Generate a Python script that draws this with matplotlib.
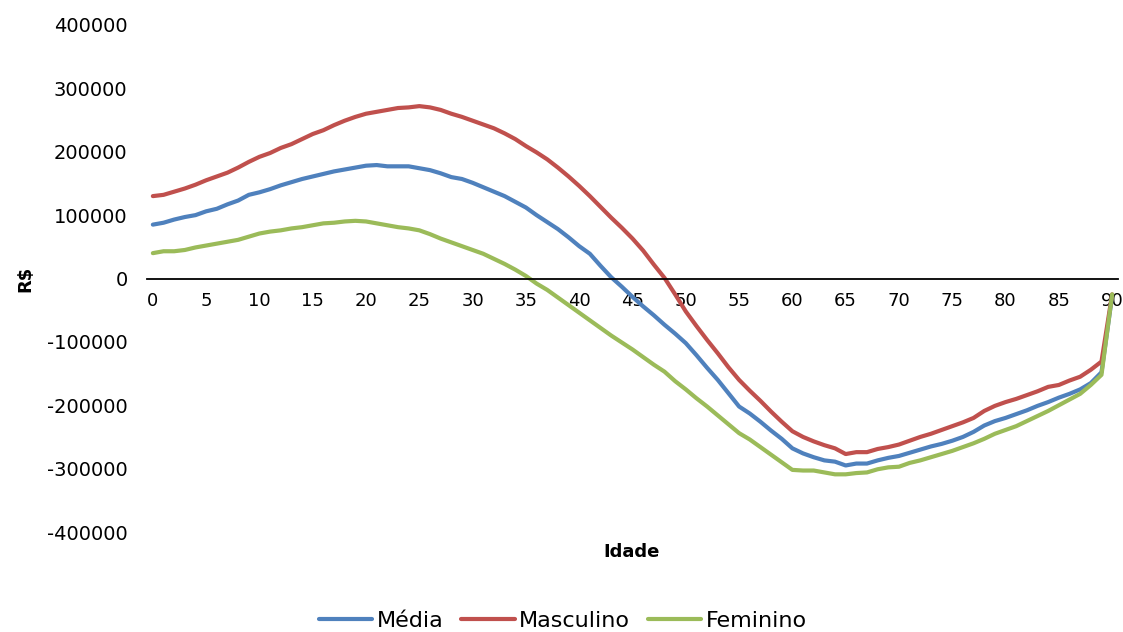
import matplotlib
matplotlib.use("Agg")
import matplotlib.pyplot as plt

ages = list(range(0, 91))

media = [85000, 88000, 93000, 97000, 100000, 106000, 110000, 117000, 123000, 132000,
         136000, 141000, 147000, 152000, 157000, 161000, 165000, 169000, 172000, 175000,
         178000, 179000, 177000, 177000, 177000, 174000, 171000, 166000, 160000, 157000,
         151000, 144000, 137000, 130000, 121000, 112000, 100000, 89000, 78000, 65000,
         51000, 39000, 20000, 2000, -13000, -29000, -44000, -58000, -73000, -87000,
         -102000, -121000, -141000, -160000, -181000, -202000, -213000, -226000, -240000, -253000,
         -268000, -276000, -282000, -287000, -289000, -295000, -292000, -292000, -287000, -283000,
         -280000, -275000, -270000, -265000, -261000, -256000, -250000, -242000, -232000, -225000,
         -220000, -214000, -208000, -201000, -195000, -188000, -182000, -175000, -165000, -148000,
         -27000]

masculino = [130000, 132000, 137000, 142000, 148000, 155000, 161000, 167000, 175000, 184000,
             192000, 198000, 206000, 212000, 220000, 228000, 234000, 242000, 249000, 255000,
             260000, 263000, 266000, 269000, 270000, 272000, 270000, 266000, 260000, 255000,
             249000, 243000, 237000, 229000, 220000, 209000, 199000, 188000, 175000, 161000,
             146000, 130000, 113000, 96000, 80000, 63000, 44000, 22000, 1000, -25000,
             -52000, -75000, -97000, -118000, -140000, -160000, -177000, -193000, -210000, -226000,
             -241000, -250000, -257000, -263000, -268000, -277000, -274000, -274000, -269000, -266000,
             -262000, -256000, -250000, -245000, -239000, -233000, -227000, -220000, -209000, -201000,
             -195000, -190000, -184000, -178000, -171000, -168000, -161000, -155000, -144000, -131000,
             -25000]

feminino = [40000, 43000, 43000, 45000, 49000, 52000, 55000, 58000, 61000, 66000,
            71000, 74000, 76000, 79000, 81000, 84000, 87000, 88000, 90000, 91000,
            90000, 87000, 84000, 81000, 79000, 76000, 70000, 63000, 57000, 51000,
            45000, 39000, 31000, 23000, 14000, 4000, -8000, -18000, -30000, -42000,
            -54000, -66000, -78000, -90000, -101000, -112000, -124000, -136000, -147000, -162000,
            -175000, -189000, -202000, -216000, -230000, -244000, -254000, -266000, -278000, -290000,
            -302000, -303000, -303000, -306000, -309000, -309000, -307000, -306000, -301000, -298000,
            -297000, -291000, -287000, -282000, -277000, -272000, -266000, -260000, -253000, -245000,
            -239000, -233000, -225000, -217000, -209000, -200000, -191000, -182000, -168000, -152000,
            -25000]

series_names = ["Média", "Masculino", "Feminino"]
colors = ["#4F81BD", "#C0504D", "#9BBB59"]
xticks = list(range(0, 91, 5))
yticks = list(range(-400000, 400001, 100000))

W, H = 1123, 632
fig = plt.figure(figsize=(W / 100, H / 100), dpi=100)
ax_left, ax_right = 147 / W, 1118 / W
ax_top, ax_bottom = 1 - 25 / H, 1 - 532 / H
ax = fig.add_axes([ax_left, ax_bottom, ax_right - ax_left, ax_top - ax_bottom])

for name, vals, c in zip(series_names, [media, masculino, feminino], colors):
    ax.plot(ages, vals, color=c, lw=3, label=name, solid_capstyle="round")

ax.set_xlim(-0.55, 90.55)
ax.set_ylim(-400000, 400000)
for s in ["top", "right", "left"]:
    ax.spines[s].set_visible(False)
ax.spines["bottom"].set_position(("data", 0))
ax.spines["bottom"].set_color("black")
ax.spines["bottom"].set_linewidth(1.3)
ax.spines["bottom"].set_zorder(5)

ax.set_xticks(xticks)
ax.set_xticklabels([str(t) for t in xticks])
ax.set_yticks(yticks)
ax.set_yticklabels([str(t) for t in yticks])
ax.tick_params(axis="x", length=0, pad=10, labelsize=13)
ax.tick_params(axis="y", length=0, pad=14, labelsize=14)

fig.text(25 / W, 1 - 279 / H, "R$", rotation=90, ha="center", va="center",
         fontsize=13, fontweight="bold")
fig.text(632 / W, 1 - 552 / H, "Idade", ha="center", va="center",
         fontsize=13, fontweight="bold")

fig.legend(loc="center", bbox_to_anchor=(563 / W, 1 - 621 / H), ncol=3, frameon=False,
           fontsize=16, handlelength=2.4, handletextpad=0.2, columnspacing=0.8)

fig.savefig("out.png", dpi=100)
